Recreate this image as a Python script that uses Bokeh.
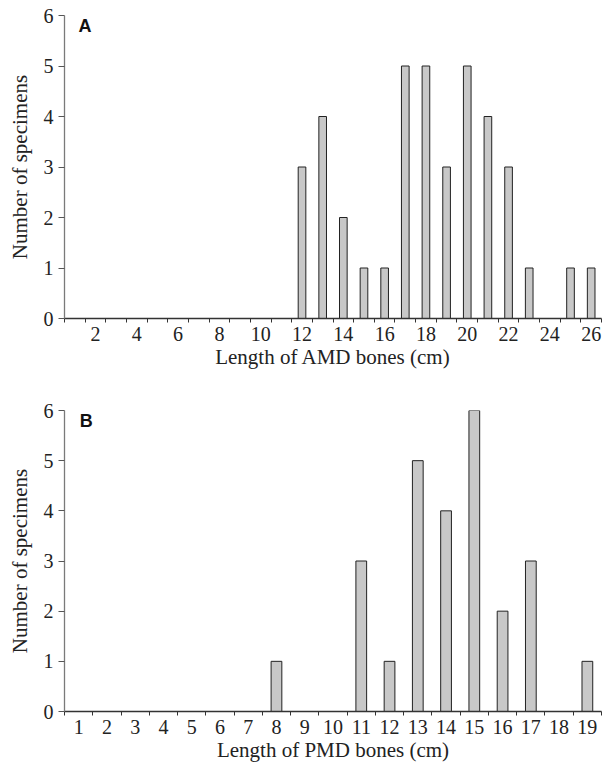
from bokeh.plotting import figure
from bokeh.layouts import column
from bokeh.models import FixedTicker, Label, Range1d
from bokeh.embed import file_html
from bokeh.resources import INLINE

# Panel A: AMD bones
amd_lengths = [12, 13, 14, 15, 16, 17, 18, 19, 20, 21, 22, 23, 25, 26]
amd_counts = [3, 4, 2, 1, 1, 5, 5, 3, 5, 4, 3, 1, 1, 1]
amd_tick_labels = [2, 4, 6, 8, 10, 12, 14, 16, 18, 20, 22, 24, 26]
amd_max = 26

# Panel B: PMD bones
pmd_lengths = [8, 11, 12, 13, 14, 15, 16, 17, 19]
pmd_counts = [1, 3, 1, 5, 4, 6, 2, 3, 1]
pmd_tick_labels = list(range(1, 20))
pmd_max = 19

y_ticks = [0, 1, 2, 3, 4, 5, 6]

SERIF = "Liberation Serif"
TXT = "#222222"


def make_panel(lengths, counts, tick_labels, nmax, letter, xlabel, bar_w,
               height, top, bottom, letter_x):
    p = figure(width=608, height=height, output_backend="svg",
               toolbar_location=None,
               x_range=Range1d(0.5, nmax + 0.5), y_range=Range1d(0, 6),
               min_border_left=64, min_border_right=7,
               min_border_top=top, min_border_bottom=bottom)
    p.outline_line_color = None
    p.xgrid.visible = False
    p.ygrid.visible = False
    p.vbar(x=lengths, top=counts, width=bar_w, bottom=0,
           fill_color="#c8c8c8", line_color="#222222", line_width=1)

    minor = [i + 0.5 for i in range(0, nmax + 1)]
    p.xaxis.ticker = FixedTicker(ticks=tick_labels, minor_ticks=minor)
    p.xaxis.axis_line_color = "#333333"
    p.xaxis.axis_line_width = 1.3
    p.xaxis.major_tick_line_color = None
    p.xaxis.major_tick_out = 4
    p.xaxis.major_tick_in = 0
    p.xaxis.minor_tick_line_color = "#333333"
    p.xaxis.minor_tick_out = 4
    p.xaxis.minor_tick_in = 0
    p.xaxis.major_label_standoff = 4
    p.xaxis.axis_label = xlabel
    p.xaxis.axis_label_standoff = 1

    p.yaxis.ticker = FixedTicker(ticks=y_ticks, minor_ticks=[])
    p.yaxis.axis_line_color = "#7a7a7a"
    p.yaxis.axis_line_width = 1.3
    p.yaxis.major_tick_line_color = "#555555"
    p.yaxis.major_tick_out = 6
    p.yaxis.major_tick_in = 0
    p.yaxis.minor_tick_line_color = None
    p.yaxis.major_label_standoff = 5
    p.yaxis.axis_label = "Number of specimens"
    p.yaxis.axis_label_standoff = 9

    for ax in (p.xaxis, p.yaxis):
        ax.major_label_text_font = SERIF
        ax.major_label_text_font_size = "20px"
        ax.major_label_text_color = TXT
        ax.axis_label_text_font = SERIF
        ax.axis_label_text_font_size = "21px"
        ax.axis_label_text_font_style = "normal"
        ax.axis_label_text_color = TXT

    p.add_layout(Label(x=letter_x, y=5.99, text=letter, text_font="Liberation Sans",
                       text_font_style="bold", text_font_size="18px",
                       text_color="#111111", text_align="left", text_baseline="top"))
    return p


pa = make_panel(amd_lengths, amd_counts, amd_tick_labels, amd_max, "A",
                "Length of AMD bones (cm)", 0.37, 390, 15, 72, 1.18)
pb = make_panel(pmd_lengths, pmd_counts, pmd_tick_labels, pmd_max, "B",
                "Length of PMD bones (cm)", 0.38, 374, 20, 51, 1.04)

layout = column(pa, pb, spacing=0)
open("out.html", "w").write(file_html(layout, INLINE))
